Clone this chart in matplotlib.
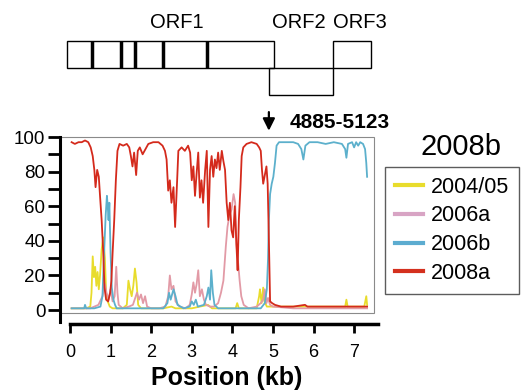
import matplotlib
matplotlib.use('Agg')
import matplotlib.pyplot as plt
from matplotlib.patches import Rectangle
from matplotlib.lines import Line2D

plt.rcParams['font.family'] = ['Liberation Sans', 'DejaVu Sans']

# ---------------- data ----------------
series_names = ['2004/05', '2006a', '2006b', '2008a']
series_colors = ['#e8dc2c', '#e29aa6', '#5cb0cc', '#d42a1c']
legend_colors = ['#e8dc2c', '#d8a4c4', '#5cacd0', '#d4301e']

x_2004 = [0.04, 0.40, 0.50, 0.53, 0.56, 0.59, 0.62, 0.65, 0.68, 0.71, 0.74, 0.78, 0.82, 0.86,
          0.89, 0.93, 0.98, 1.05, 1.30, 1.40, 1.44, 1.48, 1.52, 1.56, 1.60, 1.64, 1.68, 1.75,
          2.30, 2.50, 2.60, 3.00, 3.20, 3.40, 3.50, 3.90, 4.08, 4.12, 4.16, 4.60, 4.66, 4.68,
          4.72, 4.76, 4.79, 4.85, 5.00, 5.50, 6.00, 6.50, 6.78, 6.81, 6.84, 7.25, 7.30, 7.32]
y_2004 = [1, 1, 2, 10, 31, 19, 25, 14, 22, 12, 20, 35, 42, 30,
          10, 5, 2, 1, 1, 3, 17, 12, 8, 14, 24, 16, 3, 1,
          1, 2, 1, 1, 2, 3, 1, 1, 1, 4, 1, 1, 8, 12,
          4, 13, 5, 2, 2, 2, 2, 2, 2, 6, 2, 2, 8, 3]

x_2006a = [0.04, 0.30, 0.50, 0.60, 0.70, 0.80, 0.86, 0.90, 0.95, 1.00, 1.05, 1.10, 1.14, 1.17,
           1.20, 1.30, 1.45, 1.55, 1.65, 1.70, 1.75, 1.80, 1.85, 1.90, 2.00, 2.20, 2.35, 2.42,
           2.46, 2.50, 2.55, 2.60, 2.70, 2.85, 2.95, 3.00, 3.04, 3.08, 3.12, 3.16, 3.20, 3.25,
           3.30, 3.35, 3.45, 3.55, 3.65, 3.72, 3.78, 3.84, 3.88, 3.93, 3.98, 4.03, 4.07, 4.10,
           4.14, 4.18, 4.22, 4.28, 4.40, 4.60, 4.70, 4.76, 4.80, 4.84, 4.88, 4.93, 5.00, 5.50,
           6.00, 7.32]
y_2006a = [1, 1, 1, 2, 3, 8, 15, 10, 6, 12, 5, 8, 25, 10,
           3, 1, 2, 3, 10, 6, 9, 4, 8, 2, 1, 1, 2, 8,
           20, 12, 14, 5, 2, 1, 3, 9, 16, 10, 15, 23, 8, 12,
           6, 3, 2, 2, 4, 10, 17, 37, 48, 55, 58, 67, 62, 38,
           28, 17, 8, 3, 1, 2, 4, 6, 12, 4, 7, 3, 2, 1,
           1, 1]

x_2006b = [0.04, 0.20, 0.35, 0.37, 0.40, 0.60, 0.75, 0.80, 0.84, 0.88, 0.91, 0.93, 0.95, 0.97,
           1.00, 1.03, 1.07, 1.11, 1.15, 1.50, 2.00, 2.30, 2.40, 2.44, 2.48, 2.55, 2.60, 2.65,
           2.80, 2.95, 3.00, 3.05, 3.10, 3.15, 3.30, 3.37, 3.41, 3.45, 3.48, 3.52, 3.56, 3.65,
           4.00, 4.40, 4.70, 4.80, 4.85, 4.88, 4.90, 4.93, 4.97, 5.01, 5.05, 5.09, 5.15, 5.30,
           5.50, 5.62, 5.70, 5.75, 5.80, 5.90, 6.10, 6.30, 6.50, 6.70, 6.78, 6.81, 6.85, 6.95,
           7.00, 7.05, 7.10, 7.15, 7.22, 7.27, 7.30, 7.32]
y_2006b = [1, 1, 1, 3, 1, 1, 2, 8, 33, 55, 66, 60, 52, 62,
           33, 13, 6, 3, 1, 1, 1, 1, 4, 10, 6, 12, 8, 3,
           1, 2, 5, 3, 6, 2, 3, 8, 13, 6, 23, 10, 3, 1,
           1, 1, 1, 4, 12, 30, 52, 67, 73, 77, 85, 95, 97, 97,
           97, 96, 93, 87, 95, 97, 97, 96, 97, 96, 93, 88, 96, 97,
           94, 97, 95, 97, 96, 93, 85, 77]

x_2008a = [0.04, 0.12, 0.21, 0.29, 0.37, 0.45, 0.51, 0.56, 0.60, 0.63, 0.67, 0.71, 0.74, 0.78,
           0.82, 0.85, 0.89, 0.94, 0.99, 1.02, 1.05, 1.09, 1.13, 1.17, 1.22, 1.31, 1.40, 1.46,
           1.50, 1.54, 1.58, 1.63, 1.67, 1.72, 1.79, 1.86, 1.93, 2.05, 2.18, 2.28, 2.34, 2.38,
           2.42, 2.46, 2.50, 2.55, 2.59, 2.64, 2.67, 2.75, 2.83, 2.91, 2.96, 3.00, 3.04, 3.08,
           3.12, 3.16, 3.20, 3.24, 3.28, 3.33, 3.37, 3.41, 3.45, 3.49, 3.53, 3.57, 3.61, 3.65,
           3.69, 3.74, 3.78, 3.82, 3.86, 3.90, 3.94, 3.98, 4.02, 4.06, 4.11, 4.13, 4.16, 4.20,
           4.23, 4.27, 4.35, 4.47, 4.60, 4.66, 4.70, 4.73, 4.76, 4.80, 4.84, 4.87, 4.89, 4.91,
           4.93, 4.98, 5.05, 5.20, 5.50, 5.79, 5.85, 6.30, 6.80, 7.10, 7.32]
y_2008a = [97, 96, 97, 97, 98, 97, 94, 89, 81, 71, 81, 77, 66, 52,
           33, 13, 6, 5, 10, 17, 33, 52, 75, 92, 96, 95, 96, 94,
           89, 83, 91, 78, 92, 94, 90, 93, 96, 97, 97, 95, 92, 87,
           69, 75, 62, 71, 48, 75, 92, 94, 92, 95, 91, 75, 83, 66,
           79, 91, 65, 75, 62, 81, 92, 48, 81, 89, 77, 87, 82, 91,
           81, 92, 86, 81, 62, 52, 62, 46, 42, 60, 33, 23, 52, 71,
           89, 94, 96, 97, 96, 94, 92, 81, 73, 78, 83, 73, 52, 29,
           5, 4, 3, 2, 2, 3, 2, 2, 2, 2, 2]

series_x = [x_2004, x_2006a, x_2006b, x_2008a]
series_y = [y_2004, y_2006a, y_2006b, y_2008a]

orf_names = ['ORF1', 'ORF2', 'ORF3']
orf_start = [-0.07, 4.90, 6.48]
orf_end = [5.02, 6.48, 7.41]
orf1_marks = [0.54, 1.26, 1.60, 2.29, 3.37]
breakpoint_kb = 4.9
breakpoint_label = '4885-5123'
query_name = '2008b'
x_ticks = [0, 1, 2, 3, 4, 5, 6, 7]
y_ticks = [0, 20, 40, 60, 80, 100]
y_minor = [10, 30, 50, 70, 90]

# ---------------- layout ----------------
W, H = 522, 392
fig = plt.figure(figsize=(W / 100, H / 100), dpi=100)
fig.patch.set_facecolor('white')


def fx(px):
    return px / W


def fy(py):
    return 1 - py / H


XLIM = (-0.246, 7.49)
ax = fig.add_axes([fx(60), fy(313), fx(374) - fx(60), fy(137) - fy(313)])
ax.set_xlim(*XLIM)
ax.set_ylim(-1.7, 100)

for name, xs, ys, c in zip(series_names, series_x, series_y, series_colors):
    ax.plot(xs, ys, color=c, lw=1.3, label=name)

ax.spines['top'].set_visible(False)
ax.spines['right'].set_visible(False)
ax.spines['left'].set_linewidth(2.2)
ax.spines['left'].set_bounds(-6.9, 100)
ax.spines['bottom'].set_position(('outward', 8))
ax.spines['bottom'].set_bounds(0, 7.6)
ax.spines['bottom'].set_linewidth(2.5)
ax.add_patch(Rectangle((0, 0), 1, 1, transform=ax.transAxes, fill=False,
                       ec='#8a8a8a', lw=0.8, clip_on=False))

ax.set_xticks(x_ticks)
ax.set_xticklabels([str(t) for t in x_ticks])
ax.set_yticks(y_ticks)
ax.set_yticks(y_minor, minor=True)
ax.tick_params(axis='x', direction='out', length=6.5, width=2, pad=8, labelsize=13)
ax.tick_params(axis='y', which='both', direction='out', length=8.6, width=2, pad=2, labelsize=13.5)

fig.text(fx(227), fy(378), 'Position (kb)', fontsize=18, fontweight='bold',
         ha='center', va='center')

# arrow and breakpoint label
ax.annotate('', xy=(breakpoint_kb, 102), xytext=(breakpoint_kb, 116),
            arrowprops=dict(arrowstyle='-|>,head_length=0.36,head_width=0.18',
                            mutation_scale=20, color='black', lw=1.6),
            annotation_clip=False)
ax.text(5.42, 108.5, breakpoint_label, fontsize=15, fontweight='bold',
        ha='left', va='center', clip_on=False)

fig.text(fx(461), fy(147), query_name, fontsize=21, ha='center', va='center')

handles = [Line2D([], [], color=c, lw=3) for c in legend_colors]
leg = fig.legend(handles, series_names, loc='upper left',
                 bbox_to_anchor=(fx(385), fy(167)), bbox_transform=fig.transFigure,
                 borderaxespad=0, fontsize=15.5, frameon=True, fancybox=False,
                 handlelength=1.3, handletextpad=0.4, borderpad=0.45, labelspacing=0.36)
leg.get_frame().set_edgecolor('#333333')
leg.get_frame().set_linewidth(1.0)

# genome diagram
axd = fig.add_axes([fx(60), fy(110), fx(374) - fx(60), 110 / H])
axd.set_xlim(*XLIM)
axd.set_ylim(0, 110)
axd.axis('off')
box_y = [42, 15, 42]
for s, e, by in zip(orf_start, orf_end, box_y):
    axd.add_patch(Rectangle((s, by), e - s, 27, fill=False, ec='black', lw=1.0))
axd.vlines(orf1_marks, 42, 69, color='black', lw=2.5)
label_x = [2.64, 5.64, 7.14]
for name, lx in zip(orf_names, label_x):
    axd.text(lx, 88, name, fontsize=14.5, ha='center', va='center')

fig.savefig('out.png', dpi=100)
